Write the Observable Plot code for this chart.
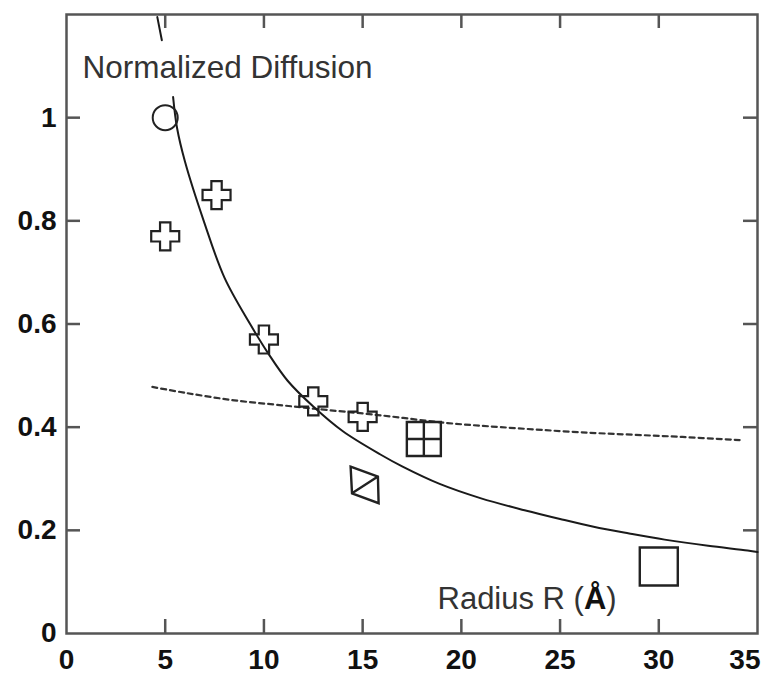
<!DOCTYPE html>
<html><head><meta charset="utf-8">
<script src="https://cdn.jsdelivr.net/npm/d3@7"></script>
<script src="https://cdn.jsdelivr.net/npm/@observablehq/plot@0.6"></script>
<style>body{margin:0;background:#fff}</style>
</head><body><div id="chart"></div>
<script>
// ---- data ----
const xTicks = [0, 5, 10, 15, 20, 25, 30, 35];
const xTickLabels = ["0", "5", "10", "15", "20", "25", "30", "35"];
const yTicks = [0, 0.2, 0.4, 0.6, 0.8, 1];
const yTickLabels = ["0", "0.2", "0.4", "0.6", "0.8", "1"];

// solid fitted curve (part above the label, then the main part)
const fitTopR = [4.6, 4.83];
const fitTopD = [1.195, 1.15];
const fitR = [5.4, 5.6, 6.0, 6.95, 8.0, 9.3, 10.2, 11.2, 12.5, 14, 15.9, 17, 18.9, 21, 23.2, 25, 26.7, 28.5, 30.3, 32.5, 34.5, 35];
const fitD = [1.04, 0.98, 0.915, 0.8, 0.69, 0.6, 0.544, 0.49, 0.44, 0.392, 0.347, 0.324, 0.29, 0.262, 0.239, 0.222, 0.207, 0.194, 0.182, 0.17, 0.161, 0.158];

// dashed curve
const dashR = [4.35, 6.1, 8.5, 11, 12.5, 15.9, 19.3, 22, 26.1, 31.2, 34.1];
const dashD = [0.478, 0.466, 0.452, 0.442, 0.436, 0.423, 0.408, 0.4, 0.39, 0.381, 0.375];

// markers
const circleR = [5], circleD = [1.0];
const crossR = [5, 7.6, 10, 12.5, 15], crossD = [0.77, 0.85, 0.57, 0.45, 0.42];
const bowR = [15.1], bowD = [0.288];
const gridR = [18.1], gridD = [0.377];
const squareR = [30], squareD = [0.13];

// ---- custom symbols ----
const rad = s => Math.sqrt(s / Math.PI);
const crossSym = {draw(c, size) {
  const r = rad(size), a = r * 0.37;
  c.moveTo(-a, -r); c.lineTo(a, -r); c.lineTo(a, -a); c.lineTo(r, -a); c.lineTo(r, a);
  c.lineTo(a, a); c.lineTo(a, r); c.lineTo(-a, r); c.lineTo(-a, a); c.lineTo(-r, a);
  c.lineTo(-r, -a); c.lineTo(-a, -a); c.closePath();
}};
const gridSym = {draw(c, size) {
  const r = rad(size);
  c.moveTo(-r, -r); c.lineTo(r, -r); c.lineTo(r, r); c.lineTo(-r, r); c.closePath();
  c.moveTo(0, -r); c.lineTo(0, r); c.moveTo(-r, 0); c.lineTo(r, 0);
}};
const squareSym = {draw(c, size) {
  const r = rad(size);
  c.moveTo(-r, -r); c.lineTo(r, -r); c.lineTo(r, r); c.lineTo(-r, r); c.closePath();
}};
const bowSym = {draw(c, size) {
  const r = rad(size);
  c.moveTo(-r, -1.3 * r); c.lineTo(0.95 * r, -0.6 * r); c.lineTo(r, 1.3 * r); c.lineTo(-0.9 * r, 0.6 * r); c.closePath();
  c.moveTo(-0.9 * r, 0.6 * r); c.lineTo(0.95 * r, -0.6 * r);
}};

const W = 763, H = 674, mL = 66, mR = 6, mT = 14, mB = 41;
const pw = W - mL - mR, ph = H - mT - mB;
const tickLen = 14;
const ink = "#222", frameInk = "#555";

const chart = Plot.plot({
  width: W, height: H,
  marginLeft: mL, marginRight: mR, marginTop: mT, marginBottom: mB,
  x: {domain: [0, 35], axis: null},
  y: {domain: [0, 1.2], axis: null},
  style: {fontFamily: "'Liberation Sans', Arial, Helvetica, sans-serif", background: "white", color: ink, overflow: "visible"},
  marks: [
    // inward ticks on all four sides
    Plot.tickX(xTicks.slice(1, -1), {x: d => d, insetTop: ph - tickLen, stroke: frameInk, strokeWidth: 2.5}),
    Plot.tickX(xTicks.slice(1, -1), {x: d => d, insetBottom: ph - tickLen, stroke: frameInk, strokeWidth: 2.5}),
    Plot.tickY(yTicks.slice(1), {y: d => d, insetRight: pw - tickLen, stroke: frameInk, strokeWidth: 2.5}),
    Plot.tickY(yTicks.slice(1), {y: d => d, insetLeft: pw - tickLen, stroke: frameInk, strokeWidth: 2.5}),
    Plot.frame({stroke: frameInk, strokeWidth: 2.5}),
    // tick labels
    Plot.text(xTicks.slice(0, -1), {x: d => d, text: (d, i) => xTickLabels[i], frameAnchor: "bottom", dy: 27, lineAnchor: "middle", fontSize: 28, fontWeight: "bold", fill: "#111"}),
    Plot.text(xTicks.slice(-1), {x: d => d, text: d => xTickLabels[xTicks.indexOf(d)], frameAnchor: "bottom", dy: 27, dx: 3, textAnchor: "end", lineAnchor: "middle", fontSize: 28, fontWeight: "bold", fill: "#111"}),
    Plot.text(yTicks, {y: d => d, text: (d, i) => yTickLabels[i], frameAnchor: "left", dx: -10, textAnchor: "end", lineAnchor: "middle", fontSize: 28, fontWeight: "bold", fill: "#111"}),
    // curves
    Plot.line(dashR, {x: dashR, y: dashD, curve: "catmull-rom", stroke: "#333", strokeWidth: 2.2, strokeDasharray: "5,4"}),
    Plot.line(fitTopR, {x: fitTopR, y: fitTopD, stroke: "#1a1a1a", strokeWidth: 2}),
    Plot.line(fitR, {x: fitR, y: fitD, curve: "catmull-rom", stroke: "#1a1a1a", strokeWidth: 2}),
    // markers
    Plot.dot(circleR, {x: circleR, y: circleD, r: 12.5, stroke: ink, strokeWidth: 2, fill: "none"}),
    Plot.dot(crossR, {x: crossR, y: crossD, symbol: crossSym, r: 14, stroke: ink, strokeWidth: 2.2, fill: "none"}),
    Plot.dot(bowR, {x: bowR, y: bowD, symbol: bowSym, r: 14, stroke: ink, strokeWidth: 2.4, fill: "none"}),
    Plot.dot(gridR, {x: gridR, y: gridD, symbol: gridSym, r: 17, stroke: ink, strokeWidth: 2.4, fill: "none"}),
    Plot.dot(squareR, {x: squareR, y: squareD, symbol: squareSym, r: 19, stroke: ink, strokeWidth: 2.4, fill: "none"}),
    // in-plot labels
    Plot.text(["Normalized Diffusion"], {text: d => d, frameAnchor: "top-left", dx: 16, dy: 63, lineAnchor: "bottom", textAnchor: "start", fontSize: 31.5, fill: "#333"}),
    Plot.text(["Radius R (Å)"], {text: d => d, frameAnchor: "bottom-left", dx: 371, dy: -25, lineAnchor: "bottom", textAnchor: "start", fontSize: 31, fill: "#333"})
  ]
});
document.getElementById("chart").appendChild(chart);

// make the Å glyph bold, as in the reference
d3.select(chart).selectAll("text").each(function() {
  if (this.textContent === "Radius R (Å)") {
    const t = d3.select(this);
    t.text(null);
    t.append("tspan").text("Radius R (");
    t.append("tspan").attr("font-weight", "bold").attr("fill", "#111").text("Å");
    t.append("tspan").text(")");
  }
});
</script>
</body></html>
